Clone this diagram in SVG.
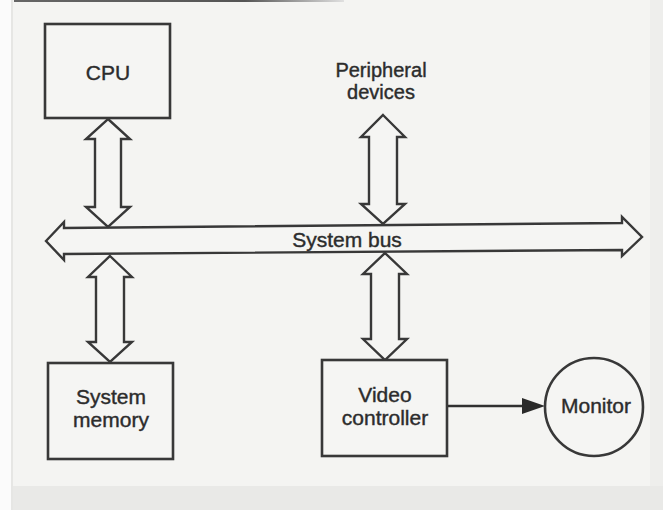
<svg xmlns="http://www.w3.org/2000/svg" width="663" height="510" viewBox="0 0 663 510">
  <defs>
    <style>
      .box { fill: #f5f5f3; stroke: #383838; stroke-width: 2.6; }
      .dbl { fill: #f5f5f3; stroke: #383838; stroke-width: 2.4; stroke-linejoin: miter; }
      .wire { fill: none; stroke: #303030; stroke-width: 2.6; }
      .lbl { font-family: "Liberation Sans", Arial, sans-serif; font-size: 21px; fill: #2c2c2c; stroke: #2c2c2c; stroke-width: 0.4; text-anchor: middle; }
      .sm { font-size: 20px; }
    </style>
    <linearGradient id="topEdge" x1="0" y1="0" x2="1" y2="0">
      <stop offset="0" stop-color="#666"/>
      <stop offset="0.7" stop-color="#555"/>
      <stop offset="1" stop-color="#e0e0e0"/>
    </linearGradient>
  </defs>

  <!-- paper -->
  <rect x="0" y="0" width="663" height="510" fill="#f4f4f2"/>
  <rect x="0" y="0" width="11" height="510" fill="#fbfbfb"/>
  <rect x="11" y="0" width="2" height="510" fill="#e6e6e4"/>
  <rect x="13" y="486" width="650" height="24" fill="#e9e9e7"/>
  <rect x="650" y="0" width="13" height="486" fill="#eeeeec"/>
  <rect x="14" y="0" width="330" height="2" fill="url(#topEdge)"/>

  <!-- connectors -->
  <g id="connectors">
    <!-- system bus -->
    <polygon class="dbl" points="46,241 64,222 64,228 622,223 622,217 642,237 622,256 622,250 64,254 64,260"/>
    <!-- CPU <-> bus -->
    <polygon class="dbl" points="108,119 130,139 121,139 121,207 130,207 108,227 86,207 95,207 95,139 86,139"/>
    <!-- peripheral devices <-> bus -->
    <polygon class="dbl" points="383,115 405,137 397,137 397,204 405,204 383,224 361,204 369,204 369,137 361,137"/>
    <!-- bus <-> system memory -->
    <polygon class="dbl" points="110,256 132,277 124,277 124,342 132,342 110,362 88,342 96,342 96,277 88,277"/>
    <!-- bus <-> video controller -->
    <polygon class="dbl" points="385,253 407,274 399,274 399,339 407,339 385,360 363,339 371,339 371,274 363,274"/>
    <!-- video controller -> monitor -->
    <line class="wire" x1="447" y1="406" x2="522" y2="406"/>
    <polygon points="545,406 522,398 522,414" fill="#2a2a2a"/>
  </g>

  <g id="cpu">
    <rect class="box" x="45" y="24" width="125" height="94"/>
    <text class="lbl" x="108" y="80">CPU</text>
  </g>

  <g id="peripheral-devices">
    <text class="lbl sm" x="381" y="77">Peripheral</text>
    <text class="lbl sm" x="381" y="99">devices</text>
  </g>

  <g id="system-bus">
    <text class="lbl" x="347" y="247">System bus</text>
  </g>

  <g id="system-memory">
    <rect class="box" x="48" y="363" width="125" height="96"/>
    <text class="lbl" x="111" y="404">System</text>
    <text class="lbl" x="111" y="427">memory</text>
  </g>

  <g id="video-controller">
    <rect class="box" x="322" y="360" width="125" height="96"/>
    <text class="lbl" x="385" y="402">Video</text>
    <text class="lbl" x="385" y="425">controller</text>
  </g>

  <g id="monitor">
    <circle class="box" cx="594" cy="407" r="49"/>
    <text class="lbl" x="596" y="413">Monitor</text>
  </g>
</svg>
